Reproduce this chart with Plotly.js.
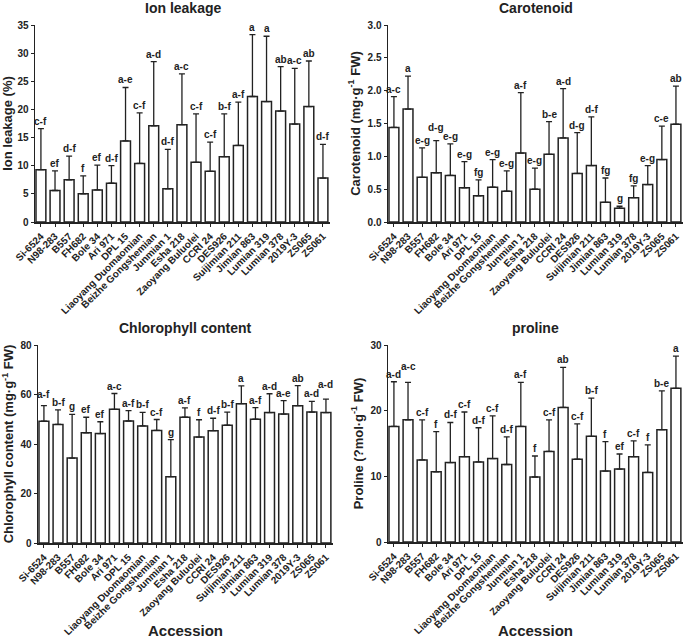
<!DOCTYPE html>
<html>
<head>
<meta charset="utf-8">
<script src="https://cdn.plot.ly/plotly-3.0.1.min.js"></script>
<style>html,body{margin:0;padding:0;background:#fff;}#chart{width:685px;height:639px;}</style>
</head>
<body>
<div id="chart"></div>
<script>
const accessions = ["Si-6524","N98-283","B557","FH682","Bole 34","Ari 971","DPL 15","Liaoyang Duomaomian","Beizhe Gongshemian","Junmian 1","Esha 218","Zaoyang Buluolei","CCRI 24","DES926","Suijimian 211","Jimian 863","Lumian 319","Lumian 378","2019Y-3","ZS065","ZS061"];

const ionMean = [9.3,5.6,7.5,5.0,5.7,6.9,14.4,10.4,17.1,5.9,17.3,10.6,9.0,11.6,13.6,22.3,21.4,19.7,17.4,20.5,7.8];
const ionTop  = [16.6,9.1,11.7,8.2,10.1,10.0,23.9,19.4,28.5,12.9,26.3,19.2,14.2,19.2,21.3,33.3,33.0,27.6,27.3,28.6,13.8];
const ionLetters = ["c-f","ef","d-f","f","ef","d-f","a-e","c-f","a-d","d-f","a-c","c-f","c-f","b-f","a-f","a","a","ab","a-c","ab","d-f"];

const carMean = [1.44,1.72,0.68,0.75,0.71,0.52,0.40,0.53,0.47,1.05,0.50,1.03,1.28,0.74,0.86,0.30,0.21,0.37,0.57,0.95,1.49];
const carTop  = [1.91,2.22,1.13,1.24,1.19,0.92,0.64,0.95,0.78,1.97,0.82,1.53,2.03,1.36,1.60,0.67,0.24,0.55,0.86,1.46,2.07];
const carLetters = ["a-c","a","e-g","d-g","e-g","e-g","fg","e-g","e-g","a-f","e-g","b-e","a-d","d-g","d-f","fg","g","fg","e-g","c-e","ab"];

const chlMean = [49.2,47.9,34.3,44.5,44.2,54.0,49.3,47.3,45.5,26.8,50.8,42.8,45.4,47.6,56.3,50.0,52.7,52.1,55.5,52.9,52.7];
const chlTop  = [55.5,53.8,52.0,50.8,49.0,60.4,53.5,52.8,49.9,41.8,54.6,49.8,50.4,52.9,63.5,54.7,60.3,57.5,63.6,57.2,58.1];
const chlLetters = ["a-f","b-f","g","ef","ef","a-c","a-f","b-f","c-f","g","a-f","f","d-f","b-f","a","a-f","a-d","a-e","ab","a-d","a-d"];

const proMean = [17.6,18.6,12.5,10.7,12.1,13.0,12.2,12.7,11.8,17.6,9.9,13.8,20.5,12.6,16.1,10.8,11.1,13.0,10.6,17.1,23.4];
const proTop  = [24.4,24.3,18.6,16.8,18.2,19.8,17.4,19.2,16.0,24.3,13.1,18.6,26.6,18.0,21.9,15.3,13.4,15.4,14.8,23.0,28.3];
const proLetters = ["a-d","a-c","c-f","f","d-f","c-f","d-f","c-f","d-f","a-f","f","c-f","ab","c-f","b-f","f","ef","c-f","f","b-e","a"];

// style: extra lift (px) for a few crowded letter labels, keyed by panel -> category index
const labelLift = [{}, {3: 6}, {0: 4, 20: 7}, {1: 8}];

const FONT = "Arial, 'Liberation Sans', Helvetica, sans-serif";
const panels = [
  {mean: ionMean, top: ionTop, letters: ionLetters, title: "Ion leakage", ytitle: "Ion leakage (%)", range: [0,35], dtick: 5, fmt: "d",
   xd: [35/685, 330/685], yd: [1-222/639, 1-25/639], xt: false},
  {mean: carMean, top: carTop, letters: carLetters, title: "Carotenoid", ytitle: "Carotenoid (mg·g<sup>-1</sup> FW)", range: [0,3], dtick: 0.5, fmt: ".1f",
   xd: [388/685, 683/685], yd: [1-222/639, 1-25/639], xt: false},
  {mean: chlMean, top: chlTop, letters: chlLetters, title: "Chlorophyll content", ytitle: "Chlorophyll content (mg·g<sup>-1</sup> FW)", range: [0,80], dtick: 20, fmt: "d",
   xd: [38/685, 333/685], yd: [1-543/639, 1-345/639], xt: true},
  {mean: proMean, top: proTop, letters: proLetters, title: "proline", ytitle: "Proline (?mol·g<sup>-1</sup> FW)", range: [0,30], dtick: 10, fmt: "d",
   xd: [388/685, 683/685], yd: [1-542/639, 1-345/639], xt: true}
];

const data = [];
const layout = {
  width: 685, height: 639,
  margin: {l:0, r:0, t:0, b:0},
  paper_bgcolor: "#fff", plot_bgcolor: "#fff",
  showlegend: false,
  font: {family: FONT, color: "#000", size: 10},
  annotations: []
};

panels.forEach((p, k) => {
  const n = k + 1;
  const xa = "x" + (n === 1 ? "" : n), ya = "y" + (n === 1 ? "" : n);
  const err = p.top.map((t, i) => +(t - p.mean[i]).toFixed(4));
  data.push({
    type: "bar", x: accessions.map((_, i) => i), y: p.mean,
    xaxis: xa, yaxis: ya, width: 0.7,
    marker: {color: "#fff", line: {color: "#222", width: 1.5}},
    error_y: {type: "data", array: err, arrayminus: p.mean.map(() => 0), symmetric: false, color: "#222", thickness: 1.3, width: 3},
    hoverinfo: "skip"
  });
  const xaxis = {
    domain: p.xd, anchor: ya, range: [-0.42, 20.5],
    tickmode: "array", tickvals: accessions.map((_, i) => i), ticktext: accessions,
    tickangle: -45, ticks: "outside", ticklen: 3, tickwidth: 1, tickcolor: "#222",
    showline: true, linecolor: "#222", linewidth: 1.5, showgrid: false, zeroline: false,
    tickfont: {family: FONT, size: 10, color: "#222", weight: "bold"}
  };
  if (p.xt) xaxis.title = {text: "<b>Accession</b>", font: {family: FONT, size: 15, color: "#222"}, standoff: 4};
  layout["xaxis" + (n === 1 ? "" : n)] = xaxis;
  layout["yaxis" + (n === 1 ? "" : n)] = {
    domain: p.yd, anchor: xa, range: p.range, dtick: p.dtick, tickformat: p.fmt,
    ticks: "outside", ticklen: 3, tickwidth: 1, tickcolor: "#222",
    showline: true, linecolor: "#222", linewidth: 1.5, showgrid: false, zeroline: false,
    tickfont: {family: FONT, size: 10, color: "#222", weight: "bold"},
    title: {text: "<b>" + p.ytitle + "</b>", font: {family: FONT, size: 13, color: "#222"}, standoff: 4}
  };
  layout.annotations.push({
    text: "<b>" + p.title + "</b>", xref: "paper", yref: "paper",
    x: (p.xd[0] + p.xd[1]) / 2, y: p.yd[1] + 17/639, xanchor: "center", yanchor: "middle",
    showarrow: false, font: {family: FONT, size: 14, color: "#222"}
  });
  p.letters.forEach((L, i) => {
    layout.annotations.push({
      text: "<b>" + L + "</b>", xref: xa, yref: ya, x: i, y: p.top[i],
      xanchor: "center", yanchor: "bottom", yshift: labelLift[k][i] || 0, showarrow: false,
      font: {family: FONT, size: 10, color: "#222"}
    });
  });
});

Plotly.newPlot("chart", data, layout, {displayModeBar: false, staticPlot: true});
</script>
</body>
</html>
